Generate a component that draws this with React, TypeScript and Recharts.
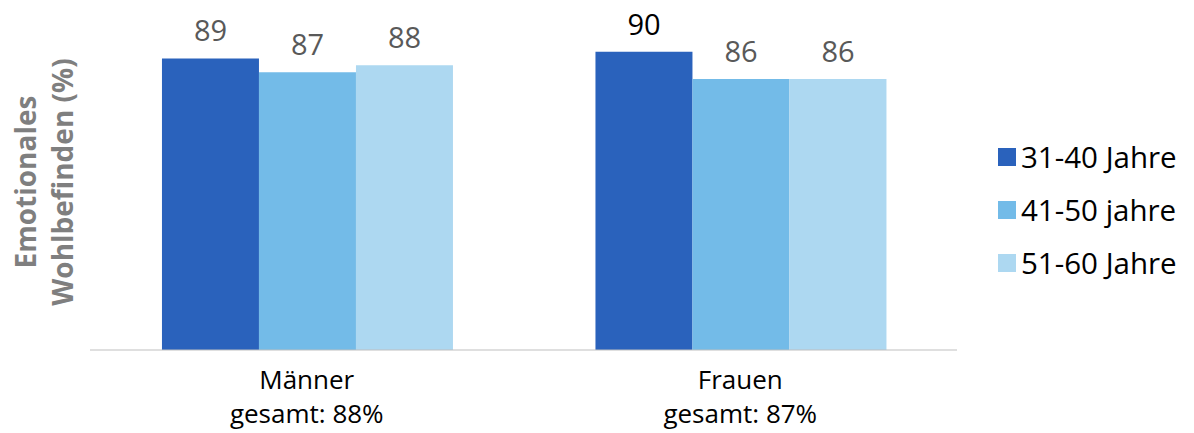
import { BarChart, Bar, XAxis, YAxis, LabelList } from "recharts";

const groups = ["Männer", "Frauen"];
const groupTotals = [88, 87];
const seriesNames = ["31-40 Jahre", "41-50 jahre", "51-60 Jahre"];
const age31to40 = [89, 90];
const age41to50 = [87, 86];
const age51to60 = [88, 86];

const colors = ["#2a62bc", "#73bbe8", "#add8f1"];
// label ink per series, per group (the 90 is printed black in the source)
const labelInks = [
  ["#595959", "#000000"],
  ["#595959", "#595959"],
  ["#595959", "#595959"],
];
const FONT = "'Open Sans', sans-serif";

const data = groups.map((g, i) => ({
  group: g,
  total: groupTotals[i],
  s0: age31to40[i],
  s1: age41to50[i],
  s2: age51to60[i],
}));

const makeLabel = (inks: string[]) => (props: any) => {
  const { x, y, width, value, index } = props;
  return (
    <text x={x + width / 2} y={y - 17} textAnchor="middle" fill={inks[index] ?? "#595959"}
      fontSize={29} fontFamily={FONT}>
      {value}
    </text>
  );
};

const GroupTick = (props: any) => {
  const { x, y, payload, index } = props;
  return (
    <g transform={`translate(${x},${y})`}>
      <text textAnchor="middle" y={39} fontSize={26} fill="#000" fontFamily={FONT}>{payload.value}</text>
      <text textAnchor="middle" y={73} fontSize={26} fill="#000" fontFamily={FONT}>
        {`gesamt: ${groupTotals[index]}%`}
      </text>
    </g>
  );
};

const YTitle = (props: any) => {
  const vb = props.viewBox || { x: 0, y: 10, width: 90, height: 340 };
  const cy = vb.y + vb.height / 2 + 2;
  return (
    <g fontFamily={FONT} fontWeight={700} fontSize={28} fill="#7f7f7f">
      <text x={36} y={cy} textAnchor="middle" transform={`rotate(-90, 36, ${cy})`}>Emotionales</text>
      <text x={73} y={cy} textAnchor="middle" transform={`rotate(-90, 73, ${cy})`}>Wohlbefinden (%)</text>
    </g>
  );
};

export default function App() {
  return (
    <div style={{ position: "absolute", left: 0, top: 0, width: 1194, height: 433, background: "#fff" }}>
      <BarChart width={1194} height={433} data={data} margin={{ top: 10, right: 237, bottom: 0, left: 0 }}
        barCategoryGap="16.6%" barGap={0}>
        <XAxis dataKey="group" height={83} stroke="#bfbfbf" tickLine={false} tickSize={0} tickMargin={0}
          tick={<GroupTick />} interval={0} />
        <YAxis width={90} domain={[46.3, 96.1]} allowDataOverflow tick={false} axisLine={false} tickLine={false}
          label={{ content: <YTitle /> }} />
        {["s0", "s1", "s2"].map((k, i) => (
          <Bar key={k} dataKey={k} name={seriesNames[i]} fill={colors[i]} isAnimationActive={false}>
            <LabelList dataKey={k} content={makeLabel(labelInks[i])} />
          </Bar>
        ))}
      </BarChart>
      <div style={{ position: "absolute", left: 998, top: 130, fontFamily: FONT, fontSize: 29.5, color: "#000" }}>
        {seriesNames.map((n, i) => (
          <div key={n} style={{ display: "flex", alignItems: "center", height: 53 }}>
            <span style={{ width: 18, height: 18, background: colors[i], marginRight: 5, display: "inline-block" }} />
            <span style={{ whiteSpace: "nowrap" }}>{n}</span>
          </div>
        ))}
      </div>
    </div>
  );
}
